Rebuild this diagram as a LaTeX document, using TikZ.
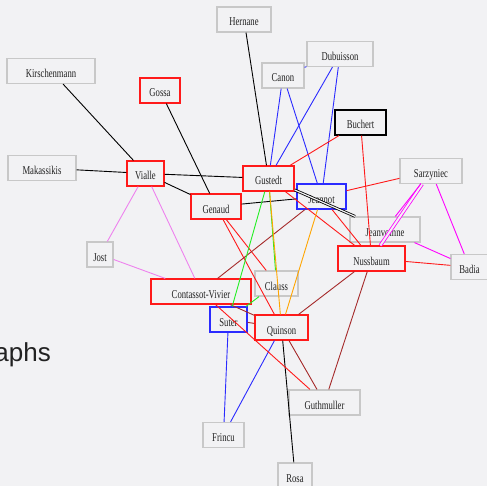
\documentclass[tikz,border=0pt]{standalone}
\usepackage{fontspec}
\newfontfamily\namefont[FakeStretch=0.72]{Liberation Serif}
\newfontfamily\headfont{Liberation Sans}
\definecolor{bg}{HTML}{F2F2F4}
\definecolor{plainedge}{HTML}{C8C8C8}
\definecolor{redc}{HTML}{FF1A1A}
\definecolor{bluec}{HTML}{2B2BFF}
\definecolor{brownc}{HTML}{A52A2A}
\definecolor{violetc}{HTML}{EE82EE}
\definecolor{magentac}{HTML}{FF00FF}
\definecolor{greenc}{HTML}{22EE22}
\definecolor{orangec}{HTML}{FFA500}
\definecolor{inkc}{HTML}{222222}
\tikzset{
  person/.style={rectangle, draw=plainedge, line width=1.2bp, fill=bg,
    minimum height=25bp, inner sep=0pt, text height=13bp, text depth=0pt,
    font=\namefont\fontsize{12bp}{12bp}\selectfont, text=inkc},
  redbox/.style={person, draw=redc},
  bluebox/.style={person, draw=bluec},
  blackbox/.style={person, draw=black},
  link/.style={line width=0.9bp},
  kblack/.style={link, draw=black},
  kblue/.style={link, draw=bluec},
  kred/.style={link, draw=redc},
  kbrown/.style={link, draw=brownc},
  kviolet/.style={link, draw=violetc},
  kmagenta/.style={link, draw=magentac},
  kgreen/.style={link, draw=greenc},
  korange/.style={link, draw=orangec},
  twin/.style={double=bg, line width=0.8bp}
}
\begin{document}
\begin{tikzpicture}[x=1bp, y=-1bp]
\useasboundingbox (0,0) rectangle (487,486);
\fill[bg] (0,0) rectangle (487,486);
\clip (0,0) rectangle (487,486);

% heading fragment on the left
\node[font=\headfont\fontsize{26bp}{26bp}\selectfont, text=inkc, anchor=base east, inner sep=0pt]
  (heading) at (51,361) {aphs};

% people
\node[person,   minimum width=54bp]  (hernane)  at (244,19.5)   {Hernane};
\node[person,   minimum width=88bp]  (kirsch)   at (51,71)      {Kirschenmann};
\node[redbox,   minimum width=40bp]  (gossa)    at (160,90.5)   {Gossa};
\node[person,   minimum width=68bp]  (makass)   at (42,168)     {Makassikis};
\node[redbox,   minimum width=37bp]  (vialle)   at (145.5,173.5){Vialle};
\node[redbox,   minimum width=50bp]  (genaud)   at (216,206.5)  {Genaud};
\node[redbox,   minimum width=51bp]  (gustedt)  at (268.5,178.5){Gustedt};
\node[bluebox,  minimum width=49bp]  (jeannot)  at (321.5,196.5){Jeannot};
\node[person,   minimum width=42bp]  (canon)    at (283,75.5)   {Canon};
\node[person,   minimum width=66bp]  (dubuis)   at (340,54)     {Dubuisson};
\node[blackbox, minimum width=51bp]  (buchert)  at (360.5,122.5){Buchert};
\node[person,   minimum width=62bp]  (sarzy)    at (431,171)    {Sarzyniec};
\node[person,   minimum width=70bp]  (jeanv)    at (385,229.5)  {Jeanvoinne};
\node[redbox,   minimum width=67bp]  (nuss)     at (371.5,258.5){Nussbaum};
\node[person,   minimum width=37bp]  (badia)    at (469.5,267)  {Badia};
\node[person,   minimum width=26bp]  (jost)     at (100,254.5)  {Jost};
\node[redbox,   minimum width=100bp] (contas)   at (201,291.5)  {Contassot-Vivier};
\node[person,   minimum width=43bp]  (clauss)   at (276.5,283.5){Clauss};
\node[bluebox,  minimum width=37bp]  (suter)    at (228.5,319.5){Suter};
\node[redbox,   minimum width=53bp]  (quinson)  at (281.5,327.5){Quinson};
\node[person,   minimum width=41bp]  (frincu)   at (223.5,435)  {Frincu};
\node[person,   minimum width=71bp]  (guthm)    at (324.5,402.5){Guthmuller};
\node[person,   minimum width=34bp]  (rosa)     at (295,475.5)  {Rosa};

% black links
\draw[kblack] (kirsch) -- (vialle);
\draw[kblack] (makass) -- (vialle);
\draw[kblack] (gossa) -- (genaud);
\draw[kblack] (vialle) -- (gustedt);
\draw[kblack] (vialle) -- (genaud);
\draw[kblack] (hernane) -- (gustedt);
\draw[kblack] (genaud) -- (jeannot);
\draw[kblack, twin, double distance=1.2bp] (gustedt) -- (jeanv);
\draw[kblack] (quinson) -- (rosa);

% blue links
\draw[kblue] (canon) -- (gustedt);
\draw[kblue] (canon) -- (jeannot);
\draw[kblue] (dubuis) -- (gustedt);
\draw[kblue] (dubuis) -- (jeannot);
\draw[kblue] (canon) -- (dubuis);
\draw[kblue] (suter) -- (frincu);
\draw[kblue] (quinson) -- (frincu);

% red links
\draw[kred] (buchert) -- (gustedt);
\draw[kred] (buchert) -- (nuss);
\draw[kred] (sarzy) -- (jeannot);
\draw[kred] (gustedt) -- (nuss);
\draw[kred] (jeannot) -- (nuss);
\draw[kred] (nuss) -- (badia);
\draw[kred] (genaud) -- (clauss);
\draw[kred] (genaud) -- (quinson);
\draw[kred] (contas) -- (guthm);

% brown links
\draw[kbrown] (jeannot) -- (contas);
\draw[kbrown] (nuss) -- (quinson);
\draw[kbrown] (nuss) -- (guthm);
\draw[kbrown] (quinson) -- (guthm);
\draw[kbrown] (contas) -- (quinson);
\draw[kbrown] (suter) -- (quinson);

% green and orange links
\draw[kgreen] (gustedt) -- (suter);
\draw[kgreen] (gustedt) -- (clauss);
\draw[kgreen] (clauss) -- (suter);
\draw[korange] (gustedt) -- (quinson);
\draw[korange] (jeannot) -- (quinson);

% violet links
\draw[kviolet] (vialle) -- (jost);
\draw[kviolet] (vialle) -- (contas);
\draw[kviolet] (jost) -- (contas);

% magenta links
\draw[kmagenta, twin, double distance=2bp] (sarzy) -- (nuss);
\draw[kmagenta] (sarzy) -- (jeanv);
\draw[kmagenta] (sarzy) -- (badia);
\draw[kmagenta] (jeanv) -- (badia);
\end{tikzpicture}
\end{document}
